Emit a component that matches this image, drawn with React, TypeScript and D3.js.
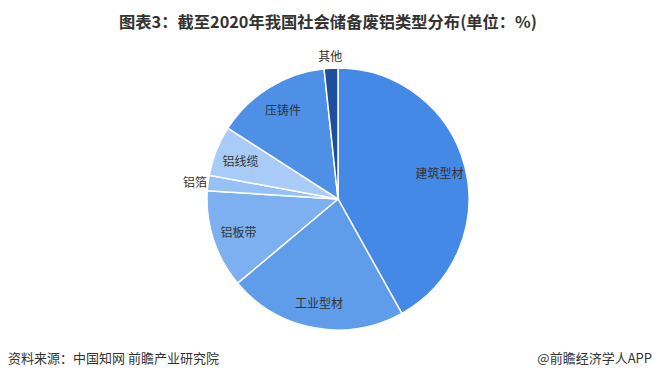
import React from "react";
import * as d3 from "d3";

const categories = ["建筑型材", "工业型材", "铝板带", "铝箔", "铝线缆", "压铸件", "其他"];
const values = [41.9, 22.0, 12.1, 1.9, 6.2, 14.2, 1.7];
const colors = ["#4589E6", "#5F9CEA", "#7DB0F0", "#97C0F4", "#A8CCF7", "#4D90E6", "#1F4E9A"];
const outside = [false, false, false, true, false, false, true];

const W = 657;
const H = 382;
const cx = 338;
const cy = 199;
const R = 131;

export default function App() {
  const pie = d3.pie<number>().sort(null).value((d) => d)(values);
  const arc = d3.arc<d3.PieArcDatum<number>>().innerRadius(0).outerRadius(R);
  const labelArc = d3.arc<d3.PieArcDatum<number>>().innerRadius(R * 0.6).outerRadius(R);
  const outArc = d3.arc<d3.PieArcDatum<number>>().innerRadius(R + 13).outerRadius(R + 13);
  const font = "'Noto Sans CJK SC', 'Noto Sans', sans-serif";
  return (
    <svg width={W} height={H} style={{ position: "absolute", left: 0, top: 0, background: "#fff" }}>
      <text x={328} y={28} textAnchor="middle" fontSize={16.3} fontWeight="bold" fill="#333" fontFamily={font}>
        图表3：截至2020年我国社会储备废铝类型分布(单位：%)
      </text>
      <g transform={`translate(${cx},${cy})`}>
        {pie.map((d, i) => (
          <path key={i} d={arc(d) || ""} fill={colors[i]} stroke="#fff" strokeWidth={1.5} />
        ))}
        {pie.map((d, i) => {
          const [x, y] = outside[i] ? outArc.centroid(d) : labelArc.centroid(d);
          return (
            <text key={"l" + i} x={x} y={y} textAnchor="middle" dominantBaseline="central" fontSize={12} fill="#333" fontFamily={font}>
              {categories[i]}
            </text>
          );
        })}
      </g>
      <text x={8} y={363} fontSize={13} fill="#333" fontFamily={font}>
        资料来源：中国知网 前瞻产业研究院
      </text>
      <text x={652} y={363} textAnchor="end" fontSize={13} fill="#333" fontFamily={font}>
        @前瞻经济学人APP
      </text>
    </svg>
  );
}
